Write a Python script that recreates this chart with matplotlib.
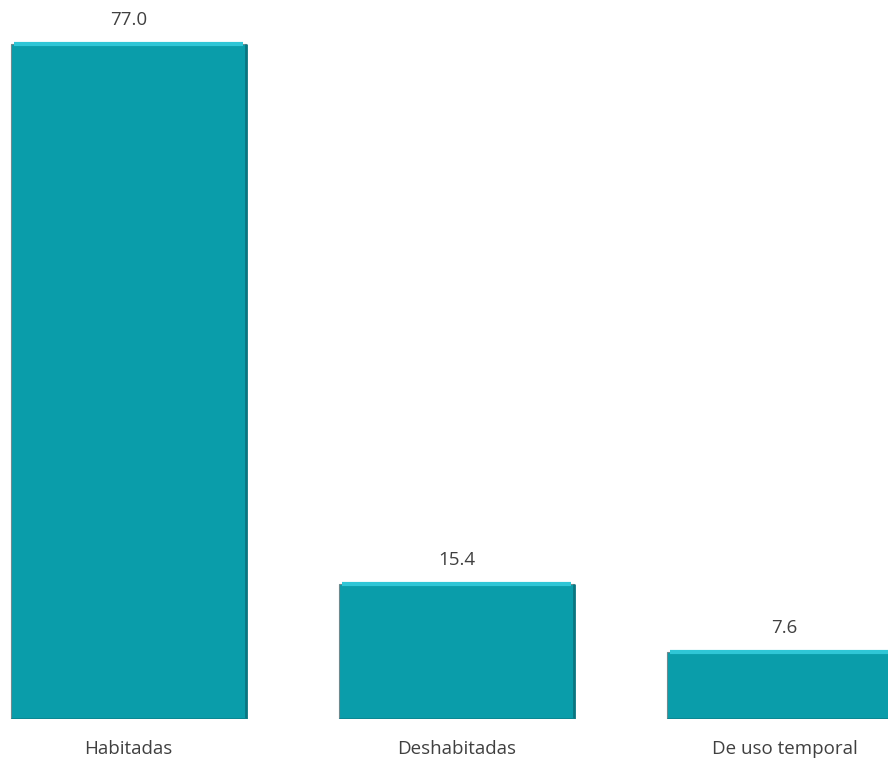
import matplotlib
matplotlib.use("Agg")
import matplotlib.pyplot as plt
import numpy as np

categories = ["Habitadas", "Deshabitadas", "De uso temporal"]
values = [77.0, 15.4, 7.6]
labels = ["77.0", "15.4", "7.6"]

plt.rcParams['font.family'] = ['Open Sans', 'DejaVu Sans']

fig = plt.figure(figsize=(8.88, 7.62), dpi=100)
ax = fig.add_axes([0, 43/762, 1, 1 - 43/762])

x = np.arange(len(categories))
width = 0.716
bars = ax.bar(x, values, width=width, color="#0A9DAA", edgecolor="#6f8a8e", linewidth=0.8, zorder=2)
# bevel highlights
for b in bars:
    bx, bw, bh = b.get_x(), b.get_width(), b.get_height()
    ax.plot([bx + 0.01, bx + bw - 0.01], [bh, bh], color="#2FC6D6", lw=3, solid_capstyle='butt', zorder=3)
    ax.plot([bx + bw, bx + bw], [0, bh], color="#0a7580", lw=2, solid_capstyle='butt', zorder=3)
    ax.plot([bx, bx + bw], [0, 0], color="#0b8590", lw=2, solid_capstyle='butt', zorder=3)

for xi, v, lab in zip(x, values, labels):
    ax.annotate(lab, (xi, v), xytext=(0, 24), textcoords="offset pixels",
                ha="center", va="center", fontsize=13.5, color="#404040", clip_on=False)

ax.set_xlim(-0.392, 2.316)
ax.set_ylim(0, 82)
ax.set_xticks(x)
ax.set_xticklabels(categories, fontsize=13.5, color="#404040")
ax.tick_params(axis='x', length=0, pad=15)
ax.set_yticks([])
for s in ax.spines.values():
    s.set_visible(False)

fig.savefig("out.png", dpi=100)
